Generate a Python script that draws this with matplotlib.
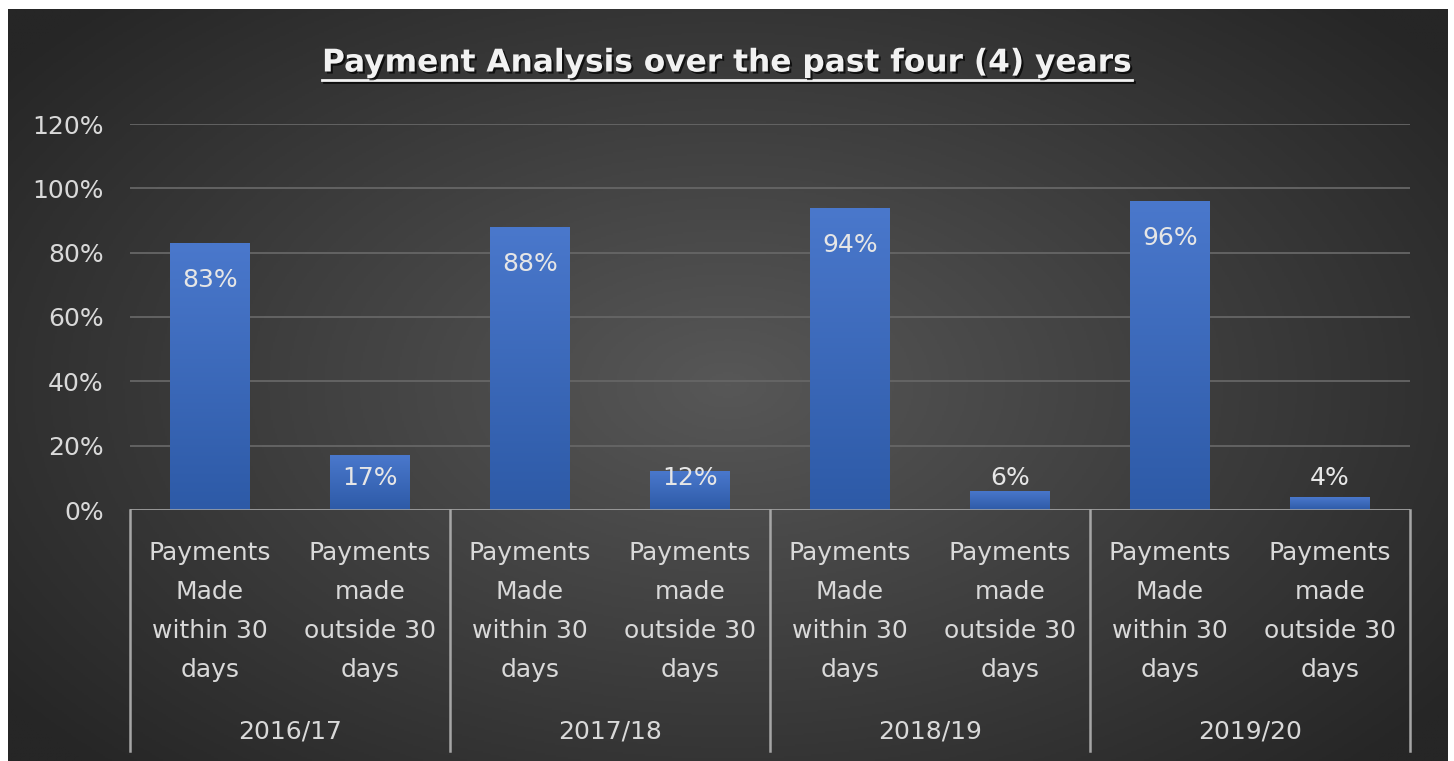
import numpy as np
import matplotlib.pyplot as plt
import matplotlib.patheffects as pe
from matplotlib.lines import Line2D
from matplotlib.colors import LinearSegmentedColormap
from matplotlib.transforms import blended_transform_factory

years = ['2016/17', '2017/18', '2018/19', '2019/20']
categories = ['Payments\nMade\nwithin 30\ndays', 'Payments\nmade\noutside 30\ndays']
within_30 = [83, 88, 94, 96]
outside_30 = [17, 12, 6, 4]

values = []
for a, b in zip(within_30, outside_30):
    values += [a, b]
labels = categories * len(years)

txt_col = '#d9d9d9'
fs = 18
plt.rcParams['font.family'] = 'DejaVu Sans'

fig = plt.figure(figsize=(14.54, 7.61), dpi=100)
fig.patch.set_facecolor('white')

# dark background panel with a soft radial glow in the middle
bg = fig.add_axes([8 / 1454, 0, 1440 / 1454, 752 / 761], zorder=0)
yy, xx = np.mgrid[-1:1:400j, -1:1:800j]
r = np.sqrt((xx / 1.0) ** 2 + (yy / 1.15) ** 2)
glow = np.clip(1 - r / 1.25, 0, 1)
bg_cmap = LinearSegmentedColormap.from_list('bg', ['#262626', '#575757'])
bg.imshow(glow, cmap=bg_cmap, aspect='auto', extent=[0, 1, 0, 1], vmin=0, vmax=1)
bg.axis('off')

ax = fig.add_axes([130 / 1454, 251 / 761, 1280 / 1454, 386 / 761], zorder=1)
ax.patch.set_alpha(0)
x = np.arange(len(values))
bars = ax.bar(x, values, width=0.5, color='none', edgecolor='none', zorder=3)

# vertical blue gradient inside each bar
bar_cmap = LinearSegmentedColormap.from_list('bar', ['#2d5aa7', '#4a78cc'])
grad = np.linspace(0, 1, 256).reshape(-1, 1)
for b in bars:
    x0, w, h = b.get_x(), b.get_width(), b.get_height()
    im = ax.imshow(grad, cmap=bar_cmap, origin='lower', aspect='auto',
                   extent=[x0, x0 + w, 0, h], zorder=3)
    im.set_clip_path(b)

ax.set_xlim(-0.5, len(values) - 0.5)
ax.set_ylim(0, 120)
ax.set_yticks(range(0, 121, 20))
ax.set_yticklabels([f'{v}%' for v in range(0, 121, 20)])
ax.grid(axis='y', color='#666666', lw=1.3, zorder=1)
ax.tick_params(axis='y', length=0, pad=19, labelsize=fs, labelcolor=txt_col)
for s in ax.spines.values():
    s.set_visible(False)

ax.set_xticks(x)
ax.set_xticklabels(labels, linespacing=1.79, fontsize=fs, color=txt_col)
ax.tick_params(axis='x', length=0, pad=22)

# category axis: baseline plus group separators
ax.axhline(0, color='#a6a6a6', lw=1.8, zorder=4)
tr = blended_transform_factory(ax.transData, ax.transAxes)
for g in range(len(years) + 1):
    xs = 2 * g - 0.5
    ax.plot([xs, xs], [0, -0.625], color='#a6a6a6', lw=1.8, transform=tr, clip_on=False)
for g, yr in enumerate(years):
    ax.text(2 * g + 0.5, -0.575, yr, transform=tr, ha='center', va='center',
            fontsize=fs, color=txt_col)

# data labels
for xi, v in zip(x, values):
    ax.text(xi, max(v - 11.5, 10), f'{v}%', ha='center', va='center',
            fontsize=fs, color='#e6e6e6', zorder=5)

title = fig.text(0.5, 1 - 63 / 761, 'Payment Analysis over the past four (4) years',
                 ha='center', va='center', fontsize=22.5, fontweight='bold', color='#f2f2f2',
                 path_effects=[pe.SimplePatchShadow(offset=(1.5, -1.5), shadow_rgbFace='black', alpha=0.7),
                               pe.Normal()])
fig.canvas.draw()
bb = title.get_window_extent().transformed(fig.transFigure.inverted())
uy = bb.y0 - 2 / 761
fig.add_artist(Line2D([bb.x0, bb.x1], [uy, uy], color='#f2f2f2', lw=2,
                      path_effects=[pe.SimpleLineShadow(offset=(1.5, -1.5), shadow_color='black', alpha=0.7),
                                    pe.Normal()]))

fig.savefig('out.png', dpi=100, facecolor=fig.get_facecolor())
